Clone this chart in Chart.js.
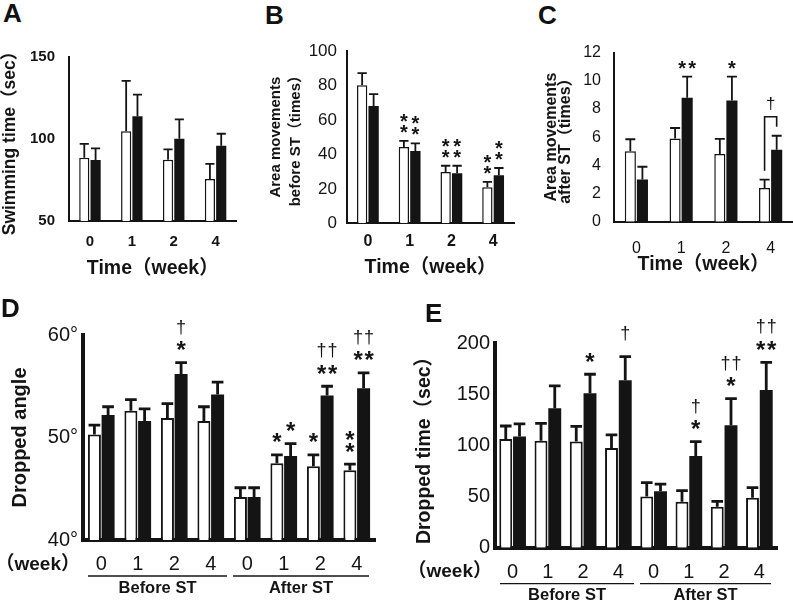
<!DOCTYPE html>
<html>
<head>
<meta charset="utf-8">
<script src="https://cdn.jsdelivr.net/npm/chart.js@4.4.1/dist/chart.umd.min.js"></script>
<style>
  html, body { margin: 0; padding: 0; background: #fff; overflow: hidden; }
  #page { position: relative; width: 793px; height: 601px; }
  #page canvas { position: absolute; }
  .tag { position: absolute; z-index: 2; font: bold 26px "Liberation Sans", Arial, sans-serif; line-height: 26px; color: #111; }
</style>
</head>
<body>
<div id="page">
  <canvas id="chartA" width="250" height="260" style="left:0px;top:30px"></canvas>
  <canvas id="chartB" width="258" height="260" style="left:262px;top:30px"></canvas>
  <canvas id="chartC" width="263" height="260" style="left:530px;top:30px"></canvas>
  <canvas id="chartD" width="400" height="291" style="left:0px;top:310px"></canvas>
  <canvas id="chartE" width="393" height="291" style="left:400px;top:310px"></canvas>
  <div class="tag" style="left:3px;top:0px">A</div>
  <div class="tag" style="left:265px;top:2px">B</div>
  <div class="tag" style="left:538px;top:2px">C</div>
  <div class="tag" style="left:1px;top:295px">D</div>
  <div class="tag" style="left:425px;top:300px">E</div>
</div>
<script>
(function () {
    "use strict";

    // --- Data -----------------------------------------------------------
    const weeks = ["0", "1", "2", "4"];
    const weeks8 = ["0", "1", "2", "4", "0", "1", "2", "4"];
    const phases = ["Before ST", "After ST"];
    const weekUnit = "（week）";

    // A: swimming time (sec); white / black bars and their error (SE)
    const swimWhite = [88.6, 104.7, 87.4, 75.6];
    const swimWhiteErr = [8.4, 30.7, 6.3, 9.2];
    const swimBlack = [87.2, 113.8, 100.2, 95.9];
    const swimBlackErr = [7.1, 13.2, 11.8, 7.3];

    // B: area movements before ST (times)
    const beforeWhite = [80.1, 44.3, 29.8, 20.9];
    const beforeWhiteErr = [7.1, 3.5, 3.6, 3.2];
    const beforeBlack = [68.1, 42.0, 29.0, 27.9];
    const beforeBlackErr = [6.9, 4.4, 4.4, 4.2];

    // C: area movements after ST (times)
    const afterWhite = [5.0, 5.9, 4.8, 2.4];
    const afterWhiteErr = [0.85, 0.75, 1.08, 0.58];
    const afterBlack = [3.0, 8.8, 8.6, 5.1];
    const afterBlackErr = [0.9, 1.5, 1.7, 1.0];

    // D: dropped angle (degrees)
    const angleWhite = [50.3, 52.6, 51.9, 51.6, 44.2, 47.5, 47.2, 46.8];
    const angleWhiteErr = [0.9, 1.1, 1.4, 1.4, 0.9, 0.8, 1.1, 0.6];
    const angleBlack = [52.2, 51.6, 56.2, 54.2, 44.2, 48.2, 54.1, 54.8];
    const angleBlackErr = [0.8, 1.2, 1.1, 1.2, 0.9, 1.2, 0.9, 1.5];

    // E: dropped time (sec)
    const dropWhite = [106.4, 104.7, 103.8, 97.6, 50.0, 45.0, 40.1, 48.9];
    const dropWhiteErr = [12.7, 17.0, 15.0, 12.7, 13.6, 10.8, 5.3, 9.8];
    const dropBlack = [108.7, 136.4, 151.1, 163.8, 55.2, 89.7, 119.8, 154.3];
    const dropBlackErr = [12.4, 21.9, 18.6, 23.2, 7.1, 14.0, 26.0, 27.1];

    // significance marks: bar index, dataset (0 white, 1 black), lines top -> bottom
    const marksB = [
        { idx: 1, set: 0, lines: ["*", "*"] }, { idx: 1, set: 1, lines: ["*", "*"] },
        { idx: 2, set: 0, lines: ["*", "*"] }, { idx: 2, set: 1, lines: ["*", "*"] },
        { idx: 3, set: 0, lines: ["*", "*"] }, { idx: 3, set: 1, lines: ["*", "*"] }
    ];
    const marksC = [
        { idx: 1, set: 1, lines: ["**"] }, { idx: 2, set: 1, lines: ["*"] }
    ];
    const bracketC = { idx: 3, text: "†" };
    const marksD = [
        { idx: 2, set: 1, lines: ["†", "*"] },
        { idx: 5, set: 0, lines: ["*"] }, { idx: 5, set: 1, lines: ["*"] },
        { idx: 6, set: 0, lines: ["*"] }, { idx: 6, set: 1, lines: ["††", "**"] },
        { idx: 7, set: 0, lines: ["*", "*"] }, { idx: 7, set: 1, lines: ["††", "**"] }
    ];
    const marksE = [
        { idx: 2, set: 1, lines: ["*"] }, { idx: 3, set: 1, lines: ["†"] },
        { idx: 5, set: 1, lines: ["†", "*"] }, { idx: 6, set: 1, lines: ["††", "*"] },
        { idx: 7, set: 1, lines: ["††", "**"] }
    ];

    // --- Helpers --------------------------------------------------------
    const FONT = '"Liberation Sans", Arial, "Noto Sans CJK JP", sans-serif';
    const INK = "#141414";
    Chart.defaults.font.family = FONT;
    Chart.defaults.color = INK;

    function errorBars(errs, lw) {
        return {
            id: "errorBars",
            afterDatasetsDraw(chart) {
                const ctx = chart.ctx, y = chart.scales.y;
                ctx.save();
                ctx.strokeStyle = INK;
                ctx.lineWidth = lw;
                chart.data.datasets.forEach((ds, d) => {
                    chart.getDatasetMeta(d).data.forEach((bar, i) => {
                        const top = y.getPixelForValue(ds.data[i] + errs[d][i]);
                        const half = bar.width * 0.45;
                        ctx.beginPath();
                        ctx.moveTo(bar.x, bar.y);
                        ctx.lineTo(bar.x, top);
                        ctx.moveTo(bar.x - half, top);
                        ctx.lineTo(bar.x + half, top);
                        ctx.stroke();
                    });
                });
                ctx.restore();
            }
        };
    }

    // draw one line of symbols with its visual centre at cy
    function symbolLine(ctx, text, cx, cy, st) {
        const star = text.indexOf("*") >= 0;
        ctx.font = star ? st.starFont : st.daggerFont;
        const chars = text.split("");
        chars.forEach((ch, k) => {
            const m = ctx.measureText(ch);
            const base = cy + (m.actualBoundingBoxAscent - m.actualBoundingBoxDescent) / 2;
            ctx.fillText(ch, cx + (k - (chars.length - 1) / 2) * st.pitch, base);
        });
    }

    function marksPlugin(marks, errs, st) {
        return {
            id: "marks",
            afterDraw(chart) {
                const ctx = chart.ctx, y = chart.scales.y;
                ctx.save();
                ctx.fillStyle = INK;
                ctx.textAlign = "center";
                ctx.textBaseline = "alphabetic";
                marks.forEach(m => {
                    const bar = chart.getDatasetMeta(m.set).data[m.idx];
                    const v = chart.data.datasets[m.set].data[m.idx] + errs[m.set][m.idx];
                    const lines = m.lines.slice().reverse();
                    let cy = y.getPixelForValue(v) - (lines[0].indexOf("*") >= 0 ? st.gap : st.daggerGap);
                    lines.forEach((line, k) => {
                        if (k > 0) {
                            const bothStars = line.indexOf("*") >= 0 && lines[k - 1].indexOf("*") >= 0;
                            cy -= bothStars ? st.starStep : st.step;
                        }
                        symbolLine(ctx, line, bar.x, cy, st);
                    });
                });
                ctx.restore();
            }
        };
    }

    function bracketPlugin(br, errs, st) {
        return {
            id: "bracket",
            afterDraw(chart) {
                const ctx = chart.ctx, y = chart.scales.y, ds = chart.data.datasets;
                const w = chart.getDatasetMeta(0).data[br.idx];
                const b = chart.getDatasetMeta(1).data[br.idx];
                const wTop = y.getPixelForValue(ds[0].data[br.idx] + errs[0][br.idx]);
                const bTop = y.getPixelForValue(ds[1].data[br.idx] + errs[1][br.idx]);
                const top = bTop - 19;
                ctx.save();
                ctx.strokeStyle = INK;
                ctx.lineWidth = 1.6;
                ctx.beginPath();
                ctx.moveTo(w.x, wTop - 9);
                ctx.lineTo(w.x, top);
                ctx.lineTo(b.x, top);
                ctx.lineTo(b.x, bTop - 9);
                ctx.stroke();
                ctx.fillStyle = INK;
                ctx.textAlign = "center";
                symbolLine(ctx, br.text, (w.x + b.x) / 2, top - 13, st);
                ctx.restore();
            }
        };
    }

    function groupAxis(st) {
        return {
            id: "groupAxis",
            afterDraw(chart) {
                const ctx = chart.ctx, x = chart.scales.x, area = chart.chartArea;
                const half = (x.getPixelForValue(1) - x.getPixelForValue(0)) / 2;
                const mid = x.getPixelForValue(3) + half;
                ctx.save();
                ctx.fillStyle = INK;
                ctx.strokeStyle = INK;
                ctx.font = "bold 19px " + FONT;
                ctx.textAlign = "right";
                ctx.textBaseline = "middle";
                ctx.fillText(weekUnit, area.left - 3, x.top + st.tickY);
                const spans = [[area.left + 5, mid - 2], [mid + 4, area.right - 6]];
                ctx.lineWidth = 1.3;
                ctx.font = "bold 16.5px " + FONT;
                ctx.textAlign = "center";
                spans.forEach((s, i) => {
                    ctx.beginPath();
                    ctx.moveTo(s[0], x.top + 36);
                    ctx.lineTo(s[1], x.top + 36);
                    ctx.stroke();
                    ctx.fillText(phases[i], (s[0] + s[1]) / 2, x.top + 48);
                });
                ctx.restore();
            }
        };
    }

    function buildChart(id, o) {
        const errs = [o.whiteErr, o.blackErr];
        const plugins = [errorBars(errs, o.errWidth)];
        if (o.marks) plugins.push(marksPlugin(o.marks, errs, o.markStyle));
        if (o.bracket) plugins.push(bracketPlugin(o.bracket, errs, o.markStyle));
        if (o.groups) plugins.push(groupAxis(o.groups));
        const barOpts = { categoryPercentage: o.catPct, barPercentage: o.barPct };
        return new Chart(document.getElementById(id), {
            type: "bar",
            data: {
                labels: o.labels,
                datasets: [
                    Object.assign({ data: o.white, backgroundColor: "#fff", borderColor: INK, borderWidth: o.barBorder }, barOpts),
                    Object.assign({ data: o.black, backgroundColor: INK, borderColor: INK, borderWidth: 0 }, barOpts)
                ]
            },
            options: {
                responsive: false,
                animation: false,
                events: [],
                layout: { padding: { top: o.padTop, right: o.padRight, left: 0, bottom: 0 } },
                plugins: { legend: { display: false }, tooltip: { enabled: false } },
                scales: {
                    x: {
                        grid: { display: false, drawTicks: false },
                        border: { display: true, color: INK, width: o.axisWidth },
                        ticks: { padding: o.xTickPad, font: o.xTickFont, color: INK, autoSkip: false, maxRotation: 0 },
                        title: o.xTitle ? { display: true, text: o.xTitle, color: INK, font: o.xTitleFont, padding: { top: 0, bottom: o.xTitlePad } } : { display: false },
                        afterFit: s => { s.height = o.xHeight; }
                    },
                    y: {
                        min: o.min, max: o.max,
                        grid: { display: false, drawTicks: false },
                        border: { display: true, color: INK, width: o.axisWidth },
                        ticks: { stepSize: o.step, padding: o.yTickPad, font: o.yTickFont, color: INK, callback: o.tickFmt || (v => v) },
                        title: { display: true, text: o.yTitle, color: INK, font: o.yTitleFont, padding: { top: o.yTitlePad, bottom: 0 } },
                        afterFit: s => { s.width = o.yWidth; }
                    }
                }
            },
            plugins: plugins
        });
    }

    const smallMarks = { starFont: "bold 20px " + FONT, daggerFont: "17px " + FONT, pitch: 10, gap: 12, daggerGap: 16, starStep: 11, step: 18 };
    const bigMarks = { starFont: "bold 24px " + FONT, daggerFont: "18px " + FONT, pitch: 11, gap: 17, daggerGap: 23, starStep: 11.5, step: 18.5 };

    // --- Panel A --------------------------------------------------------
    buildChart("chartA", {
        labels: weeks, white: swimWhite, whiteErr: swimWhiteErr, black: swimBlack, blackErr: swimBlackErr,
        min: 50, max: 150, step: 50,
        catPct: 0.54, barPct: 0.9, barBorder: 1.5, errWidth: 1.8, axisWidth: 2,
        padTop: 27, padRight: 13.5, yWidth: 69, xHeight: 69,
        yTickPad: 14, yTickFont: { size: 15, weight: "bold" },
        xTickPad: 12, xTickFont: { size: 15, weight: "bold" },
        yTitle: "Swimming time（sec）", yTitleFont: { size: 17.5, weight: "bold" }, yTitlePad: 0,
        xTitle: "Time" + weekUnit, xTitleFont: { size: 19.5, weight: "bold" }, xTitlePad: 9.3
    });

    // --- Panel B --------------------------------------------------------
    buildChart("chartB", {
        labels: weeks, white: beforeWhite, whiteErr: beforeWhiteErr, black: beforeBlack, blackErr: beforeBlackErr,
        min: 0, max: 100, step: 20,
        catPct: 0.55, barPct: 0.9, barBorder: 1.5, errWidth: 1.8, axisWidth: 2,
        padTop: 21, padRight: 6, yWidth: 85, xHeight: 66.7,
        yTickPad: 10, yTickFont: { size: 17 },
        xTickPad: 9, xTickFont: { size: 16, weight: "bold" },
        yTitle: ["Area movements", "before ST（times）"], yTitleFont: { size: 15, weight: "bold", lineHeight: 1.33 }, yTitlePad: 4,
        xTitle: "Time" + weekUnit, xTitleFont: { size: 19.5, weight: "bold" }, xTitlePad: 10.3,
        marks: marksB, markStyle: smallMarks
    });

    // --- Panel C --------------------------------------------------------
    buildChart("chartC", {
        labels: weeks, white: afterWhite, whiteErr: afterWhiteErr, black: afterBlack, blackErr: afterBlackErr,
        min: 0, max: 12, step: 2,
        catPct: 0.54, barPct: 0.92, barBorder: 1.5, errWidth: 1.8, axisWidth: 2,
        padTop: 17.7, padRight: 0, yWidth: 84, xHeight: 68.3,
        yTickPad: 13, yTickFont: { size: 16 },
        xTickPad: 17.7, xTickFont: { size: 16 },
        yTitle: ["Area movements", "after ST（times）"], yTitleFont: { size: 16, weight: "bold", lineHeight: 0.82 }, yTitlePad: 15.5,
        xTitle: "Time" + weekUnit, xTitleFont: { size: 19.5, weight: "bold" }, xTitlePad: 13.3,
        marks: marksC, bracket: bracketC, markStyle: smallMarks
    });

    // --- Panel D --------------------------------------------------------
    buildChart("chartD", {
        labels: weeks8, white: angleWhite, whiteErr: angleWhiteErr, black: angleBlack, blackErr: angleBlackErr,
        min: 40, max: 60, step: 10, tickFmt: v => v + "°",
        catPct: 0.75, barPct: 0.95, barBorder: 2, errWidth: 2.8, axisWidth: 4,
        padTop: 25, padRight: 25, yWidth: 83, xHeight: 61,
        yTickPad: 5, yTickFont: { size: 20 },
        xTickPad: 12.5, xTickFont: { size: 20 },
        yTitle: "Dropped angle", yTitleFont: { size: 20, weight: "bold" }, yTitlePad: 8,
        marks: marksD, markStyle: bigMarks, groups: { tickY: 24.5 }
    });

    // --- Panel E --------------------------------------------------------
    buildChart("chartE", {
        labels: weeks8, white: dropWhite, whiteErr: dropWhiteErr, black: dropBlack, blackErr: dropBlackErr,
        min: 0, max: 200, step: 50,
        catPct: 0.78, barPct: 0.94, barBorder: 2, errWidth: 2.8, axisWidth: 4,
        padTop: 33.3, padRight: 16, yWidth: 95, xHeight: 53.3,
        yTickPad: 5, yTickFont: { size: 20 },
        xTickPad: 12.3, xTickFont: { size: 20 },
        yTitle: "Dropped time（sec）", yTitleFont: { size: 19.5, weight: "bold" }, yTitlePad: 13,
        marks: marksE, markStyle: bigMarks, groups: { tickY: 24.3 }
    });
})();
</script>
</body>
</html>
